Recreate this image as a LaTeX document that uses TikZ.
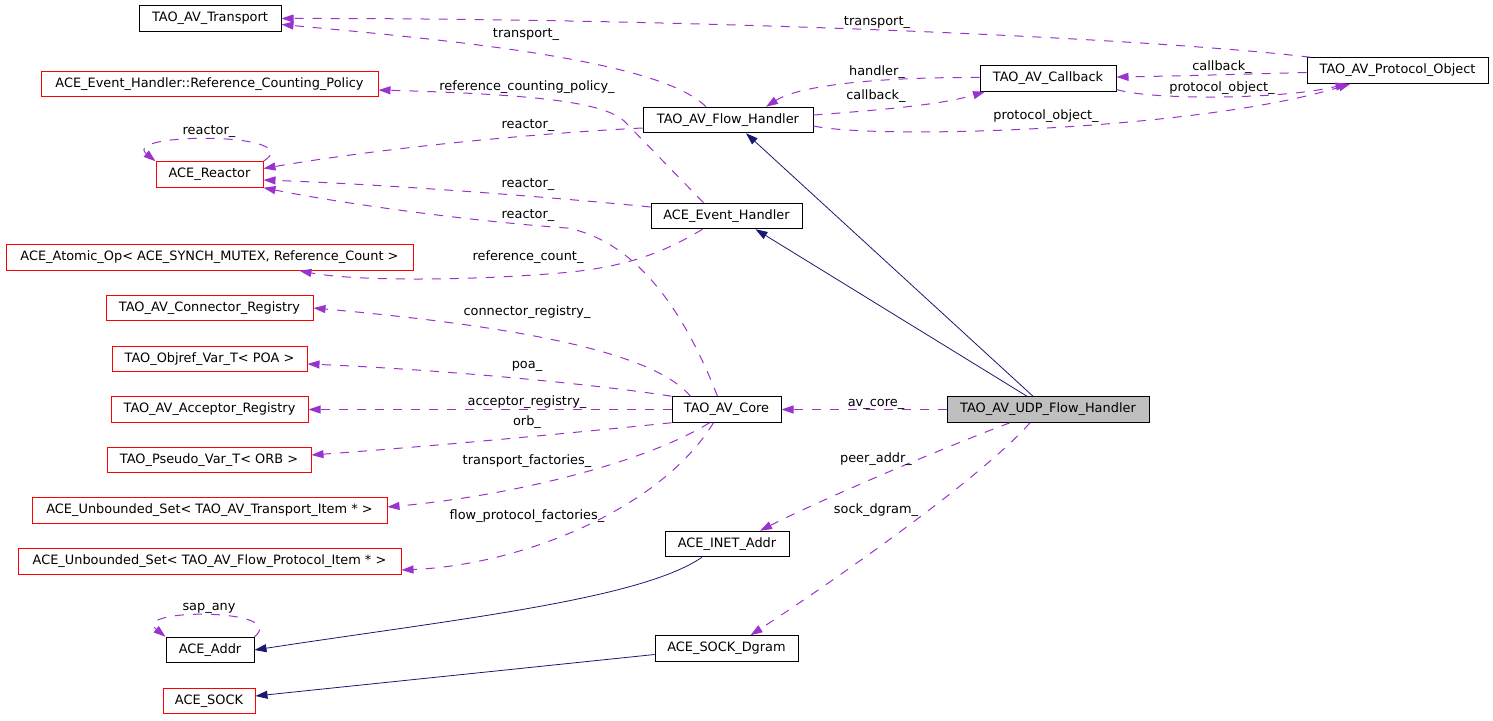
\documentclass[tikz,border=0pt]{standalone}
\usepackage{fontspec}
\setmainfont{DejaVu Sans}
\usetikzlibrary{arrows.meta}
\definecolor{membercol}{HTML}{9A32CD}
\definecolor{basecol}{HTML}{191970}
\definecolor{focuscol}{HTML}{BFBFBF}
\begin{document}
\begin{tikzpicture}[x=1pt, y=-1pt,
  every node/.style={font=\fontsize{12.9}{15}\selectfont},
  cls/.style={draw, line width=1pt, minimum height=25.5pt, inner sep=1pt},
  undoc/.style={cls, draw=red},
  lbl/.style={inner sep=0pt, text height=9.5pt, text depth=3pt},
  member/.style={draw=membercol, line width=1pt, dash pattern=on 9pt off 9pt,
    -{Triangle[length=12pt, width=8pt, fill=membercol]}},
  base/.style={draw=basecol, line width=0.8pt,
    -{Triangle[length=12pt, width=8pt, fill=basecol]}}]
\useasboundingbox (0, 0) rectangle (1493, 720);

\node[cls, minimum width=142pt] (tr) at (210, 18.5) {TAO\_AV\_Transport};
\node[undoc, minimum width=337pt] (rcp) at (209.5, 84) {ACE\_Event\_Handler::Reference\_Counting\_Policy};
\node[undoc, minimum width=107pt] (reactor) at (209.5, 174.5) {ACE\_Reactor};
\node[undoc, minimum width=407pt] (atomic) at (209.5, 257.5) {ACE\_Atomic\_Op< ACE\_SYNCH\_MUTEX, Reference\_Count >};
\node[undoc, minimum width=207pt] (connreg) at (209.5, 308) {TAO\_AV\_Connector\_Registry};
\node[undoc, minimum width=195pt] (objref) at (209.5, 359) {TAO\_Objref\_Var\_T< POA >};
\node[undoc, minimum width=197pt] (accreg) at (209.5, 409.5) {TAO\_AV\_Acceptor\_Registry};
\node[undoc, minimum width=204pt] (pseudo) at (209, 460) {TAO\_Pseudo\_Var\_T< ORB >};
\node[undoc, minimum width=355pt] (ustrans) at (209.5, 510.5) {ACE\_Unbounded\_Set< TAO\_AV\_Transport\_Item * >};
\node[undoc, minimum width=383pt] (usflow) at (209.5, 561.5) {ACE\_Unbounded\_Set< TAO\_AV\_Flow\_Protocol\_Item * >};
\node[cls, minimum width=88pt] (addr) at (210, 650) {ACE\_Addr};
\node[undoc, minimum width=92pt] (sock) at (209, 701) {ACE\_SOCK};

\node[cls, minimum width=170pt] (fh) at (728, 120) {TAO\_AV\_Flow\_Handler};
\node[cls, minimum width=151pt] (eh) at (726.5, 216) {ACE\_Event\_Handler};
\node[cls, minimum width=109pt] (core) at (726.5, 409.5) {TAO\_AV\_Core};
\node[cls, minimum width=124pt] (inet) at (727, 544) {ACE\_INET\_Addr};
\node[cls, minimum width=143pt] (dgram) at (726.5, 648.5) {ACE\_SOCK\_Dgram};
\node[cls, minimum width=136pt] (cb) at (1048, 78.5) {TAO\_AV\_Callback};
\node[cls, minimum width=181pt] (po) at (1397.5, 70.5) {TAO\_AV\_Protocol\_Object};
\node[cls, fill=focuscol, minimum width=202pt] (udp) at (1048, 409.5) {TAO\_AV\_UDP\_Flow\_Handler};

% inheritance
\draw[base] ([xshift=-15pt]udp.north) to ([xshift=18pt]fh.south);
\draw[base] ([xshift=-21pt]udp.north) to ([xshift=29pt]eh.south);
\draw[base] ([xshift=-25pt]inet.south) .. controls (640, 600) and (450, 620) .. (addr.east);
\draw[base] ([yshift=-6pt]dgram.west) to ([yshift=5pt]sock.east);

% members
\draw[member] ([xshift=4pt]po.north west) .. controls (1150, 38) and (700, 18) .. (tr.east);
\draw[member] ([xshift=-22pt]fh.north) .. controls (660, 60) and (450, 40) .. ([yshift=-6pt]tr.east);
\draw[member] ([xshift=-23pt]eh.north) -- (628, 125) .. controls (612, 105) and (560, 95) .. ([yshift=-6pt]rcp.east);
\draw[member] ([yshift=5pt]fh.east) .. controls (880, 110) and (940, 105) .. ([xshift=-63pt]cb.south);
\draw[member] ([yshift=1pt]cb.west) .. controls (880, 77) and (800, 85) .. ([xshift=38pt]fh.north);
\draw[member] ([yshift=-2pt]po.west) .. controls (1250, 74) and (1180, 76) .. ([yshift=1.5pt]cb.east);
\draw[member] ([yshift=-11pt]cb.east) .. controls (1150, 100) and (1280, 100) .. ([xshift=-50pt]po.south);
\draw[member] ([yshift=-6pt]fh.east) .. controls (880, 140) and (1200, 130) .. ([xshift=-47pt]po.south);
\draw[member] ([yshift=-8pt]fh.west) .. controls (560, 132) and (400, 145) .. ([yshift=6pt]reactor.east);
\draw[member] (reactor.north east) .. controls (310, 132) and (120, 132) .. (reactor.north west);
\draw[member] ([yshift=9pt]eh.west) .. controls (560, 198) and (400, 185) .. ([yshift=-5.5pt]reactor.east);
\draw[member] ([xshift=-9pt]core.north) .. controls (680, 300) and (630, 240) .. (567, 228)
  .. controls (480, 222) and (350, 205) .. (reactor.south east);
\draw[member] ([xshift=-24pt]eh.south) .. controls (660, 255) and (620, 268) .. (560, 273)
  .. controls (480, 280) and (360, 282) .. ([xshift=90pt]atomic.south);
\draw[member] ([xshift=-36pt]core.north) .. controls (660, 360) and (560, 330) .. (connreg.east);
\draw[member] (core.north west) .. controls (600, 385) and (450, 370) .. ([yshift=-5pt]objref.east);
\draw[member] (core.west) to (accreg.east);
\draw[member] (core.south west) .. controls (600, 430) and (450, 445) .. ([yshift=5pt]pseudo.east);
\draw[member] ([xshift=-17pt]core.south) .. controls (650, 460) and (520, 495) .. ([yshift=3.5pt]ustrans.east);
\draw[member] ([xshift=-13pt]core.south) .. controls (660, 510) and (520, 565) .. ([yshift=-8.5pt]usflow.east);
\draw[member] (udp.west) to (core.east);
\draw[member] ([xshift=-38pt]udp.south) .. controls (950, 445) and (820, 500) .. ([xshift=33pt]inet.north);
\draw[member] ([xshift=-18pt]udp.south) .. controls (980, 480) and (820, 590) .. ([xshift=24pt]dgram.north);
\draw[member] (addr.north east) .. controls (290, 608) and (130, 608) .. (addr.north west);

% edge labels
\node[lbl] (l_tr1) at (877, 22) {transport\_};
\node[lbl] (l_tr2) at (526, 34) {transport\_};
\node[lbl] (l_rcp) at (527, 87) {reference\_counting\_policy\_};
\node[lbl] (l_hd) at (877, 72) {handler\_};
\node[lbl] (l_cb1) at (876, 96) {callback\_};
\node[lbl] (l_cb2) at (1222, 67) {callback\_};
\node[lbl] (l_po1) at (1222, 88) {protocol\_object\_};
\node[lbl] (l_po2) at (1046, 116) {protocol\_object\_};
\node[lbl] (l_re0) at (209, 131) {reactor\_};
\node[lbl] (l_re1) at (528, 125) {reactor\_};
\node[lbl] (l_re2) at (528, 184) {reactor\_};
\node[lbl] (l_re3) at (528, 215) {reactor\_};
\node[lbl] (l_rc) at (528, 257) {reference\_count\_};
\node[lbl] (l_cr) at (527, 312) {connector\_registry\_};
\node[lbl] (l_poa) at (527, 365) {poa\_};
\node[lbl] (l_ar) at (527, 402) {acceptor\_registry\_};
\node[lbl] (l_orb) at (527, 422) {orb\_};
\node[lbl] (l_tf) at (527, 461) {transport\_factories\_};
\node[lbl] (l_fpf) at (527, 516) {flow\_protocol\_factories\_};
\node[lbl] (l_avc) at (876, 403) {av\_core\_};
\node[lbl] (l_pa) at (876, 459) {peer\_addr\_};
\node[lbl] (l_sd) at (876, 510) {sock\_dgram\_};
\node[lbl] (l_sap) at (209, 607) {sap\_any};
\end{tikzpicture}
\end{document}
